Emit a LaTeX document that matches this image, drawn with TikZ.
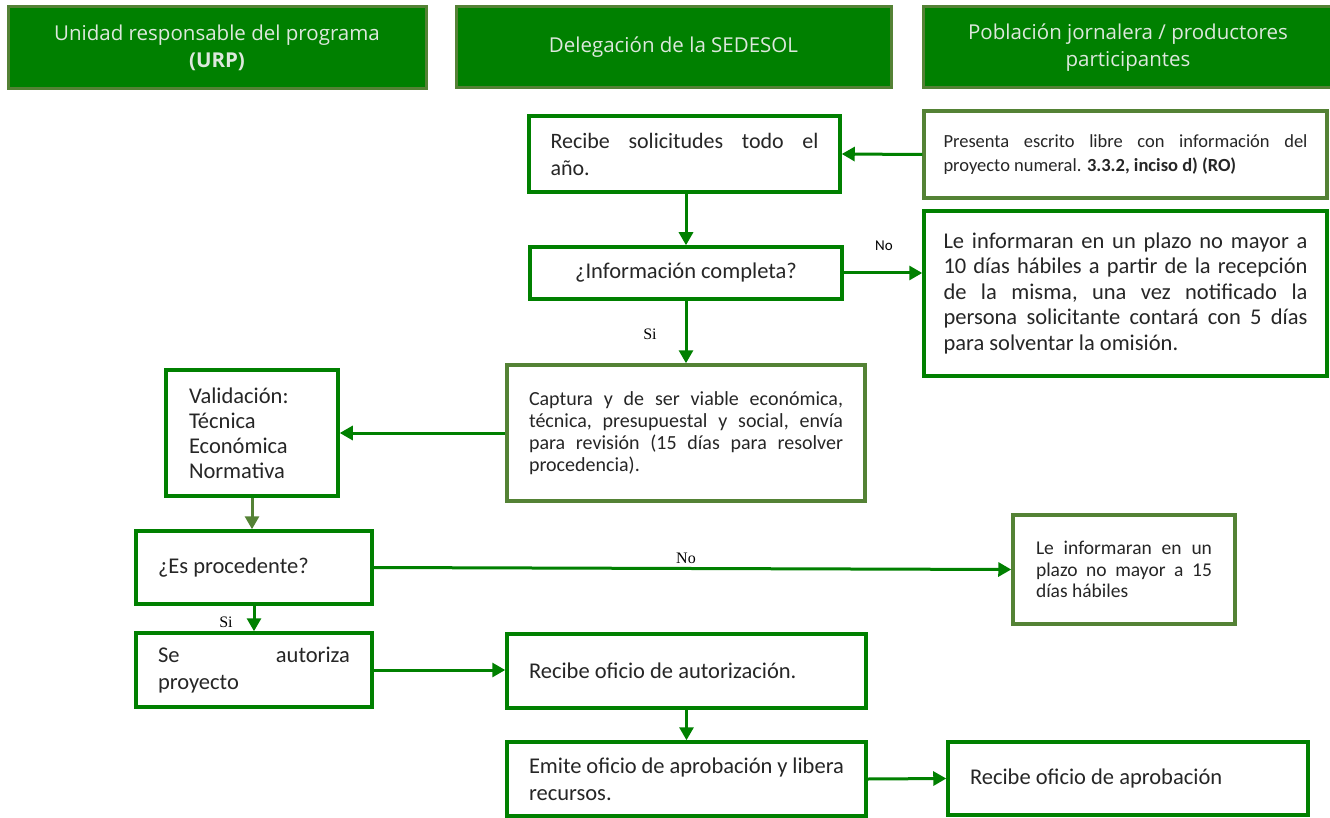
\documentclass[tikz,border=0pt]{standalone}
\usepackage{fontspec}
\setmainfont{Carlito}
\newfontfamily\hdrfont{Open Sans}
\newfontfamily\serfont{Liberation Serif}
\usetikzlibrary{arrows.meta,calc}
\definecolor{fgreen}{HTML}{008000}
\definecolor{olive}{HTML}{548235}
\definecolor{hdrtext}{HTML}{DDE8DD}
\tikzset{
  header/.style={draw=olive, fill=fgreen, line width=3pt, text=hdrtext, align=center,
    font=\hdrfont\fontsize{20.5}{27}\selectfont, inner sep=0pt},
  gbox/.style={draw=fgreen, fill=white, line width=3.5pt, inner sep=0pt, text=black!85},
  obox/.style={gbox, draw=olive},
  arr/.style={draw=fgreen, line width=3pt, -{Triangle[length=13pt,width=14pt]}},
  oarr/.style={arr, draw=olive, -{Triangle[length=13pt,width=14pt,fill=olive]}},
  lbl/.style={font=\serfont\fontsize{16}{18}\selectfont, inner sep=0pt},
}
\begin{document}
\begin{tikzpicture}[x=1pt,y=-1pt]
\useasboundingbox (0,0) rectangle (1330,818);
% headers
\node[header, minimum width=418pt, minimum height=82pt] (h1) at (217,48) {Unidad responsable del programa\\ \textbf{(URP)}};
\node[header, minimum width=435pt, minimum height=81pt] (h2) at (673.5,47.5) {Delegación de la SEDESOL};
\node[header, minimum width=410pt, minimum height=81pt] (h3) at (1128,47.5) {Población jornalera / productores\\ participantes};

% boxes
\node[gbox, minimum width=311pt, minimum height=76pt] (rec) at (684.5,154)
  {\parbox{268pt}{\fontsize{22}{27}\selectfont Recibe\hfill solicitudes\hfill todo\hfill el\\ año.}};
\node[obox, minimum width=403pt, minimum height=87pt] (pres) at (1125.5,154.5)
  {\parbox{364pt}{\fontsize{18.5}{24}\selectfont Presenta\hfill escrito\hfill libre\hfill con\hfill información\hfill del\\ proyecto numeral. \textbf{3.3.2, inciso d) (RO)}}};
\node[gbox, minimum width=312pt, minimum height=52pt] (info) at (686,273)
  {\fontsize{22.5}{26}\selectfont ¿Información completa?};
\node[gbox, minimum width=403pt, minimum height=165pt] (diez) at (1125.5,293.5)
  {\parbox{364pt}{\fontsize{22.5}{25.5}\selectfont Le\hfill informaran\hfill en\hfill un\hfill plazo\hfill no\hfill mayor\hfill a\\
  10\hfill días\hfill hábiles\hfill a\hfill partir\hfill de\hfill la\hfill recepción\\
  de\hfill la\hfill misma,\hfill una\hfill vez\hfill notificado\hfill la\\
  persona\hfill solicitante\hfill contará\hfill con\hfill 5\hfill días\\
  para solventar la omisión.}};
\node[obox, minimum width=358pt, minimum height=136pt] (cap) at (686,433)
  {\parbox{314pt}{\fontsize{20}{22}\selectfont Captura\hfill y\hfill de\hfill ser\hfill viable\hfill económica,\\
  técnica,\hfill presupuestal\hfill y\hfill social,\hfill envía\\
  para\hfill revisión\hfill (15\hfill días\hfill para\hfill resolver\\
  procedencia).}};
\node[gbox, minimum width=172pt, minimum height=126pt] (val) at (252,433)
  {\parbox{126pt}{\fontsize{22.5}{25}\selectfont Validación:\\ Técnica\\ Económica\\ Normativa}};
\node[gbox, minimum width=236pt, minimum height=73pt] (proc) at (254,567.5)
  {\parbox{192pt}{\fontsize{22.5}{26}\selectfont ¿Es procedente?}};
\node[obox, minimum width=222pt, minimum height=109pt] (quince) at (1124,569.5)
  {\parbox{176pt}{\fontsize{19.5}{21.5}\selectfont Le\hfill informaran\hfill en\hfill un\\ plazo\hfill no\hfill mayor\hfill a\hfill 15\\ días hábiles}};
\node[gbox, minimum width=236pt, minimum height=74pt] (aut) at (254,670)
  {\parbox{192pt}{\fontsize{22.5}{27}\selectfont Se\hfill autoriza\\ proyecto}};
\node[gbox, minimum width=359pt, minimum height=74pt] (raut) at (686.5,671)
  {\parbox{315pt}{\fontsize{22.5}{27}\selectfont Recibe oficio de autorización.}};
\node[gbox, minimum width=359pt, minimum height=74pt] (emi) at (686.5,779)
  {\parbox{315pt}{\fontsize{22.5}{27}\selectfont Emite oficio de aprobación y libera\\ recursos.}};
\node[gbox, minimum width=360pt, minimum height=73pt] (rapr) at (1128,778.5)
  {\parbox{316pt}{\fontsize{22.5}{27}\selectfont Recibe oficio de aprobación}};

% connectors
\draw[arr] (pres.west) -- (rec.east);
\draw[arr] (rec.south -| info.north) -- (info.north);
\draw[arr] (info.east) -- (info.east -| diez.west);
\draw[arr] (info.south) -- (cap.north);
\draw[arr] (cap.west) -- (cap.west -| val.east);
\draw[oarr] (val.south) -- (val.south |- proc.north);
\draw[arr] (proc.east) -- (quince.west);
\draw[arr] (proc.south) -- (aut.north);
\draw[arr] (aut.east) -- (aut.east -| raut.west);
\draw[arr] (raut.south) -- (emi.north);
\draw[arr] (emi.east) -- (rapr.west);

% labels
\node[font=\fontsize{15}{18}\selectfont, inner sep=0pt] (lno1) at (884,246) {No};
\node[lbl] (lsi1) at (650,334) {Si};
\node[lbl] (lno2) at (686,558) {No};
\node[lbl] (lsi2) at (226,622) {Si};
\end{tikzpicture}
\end{document}
